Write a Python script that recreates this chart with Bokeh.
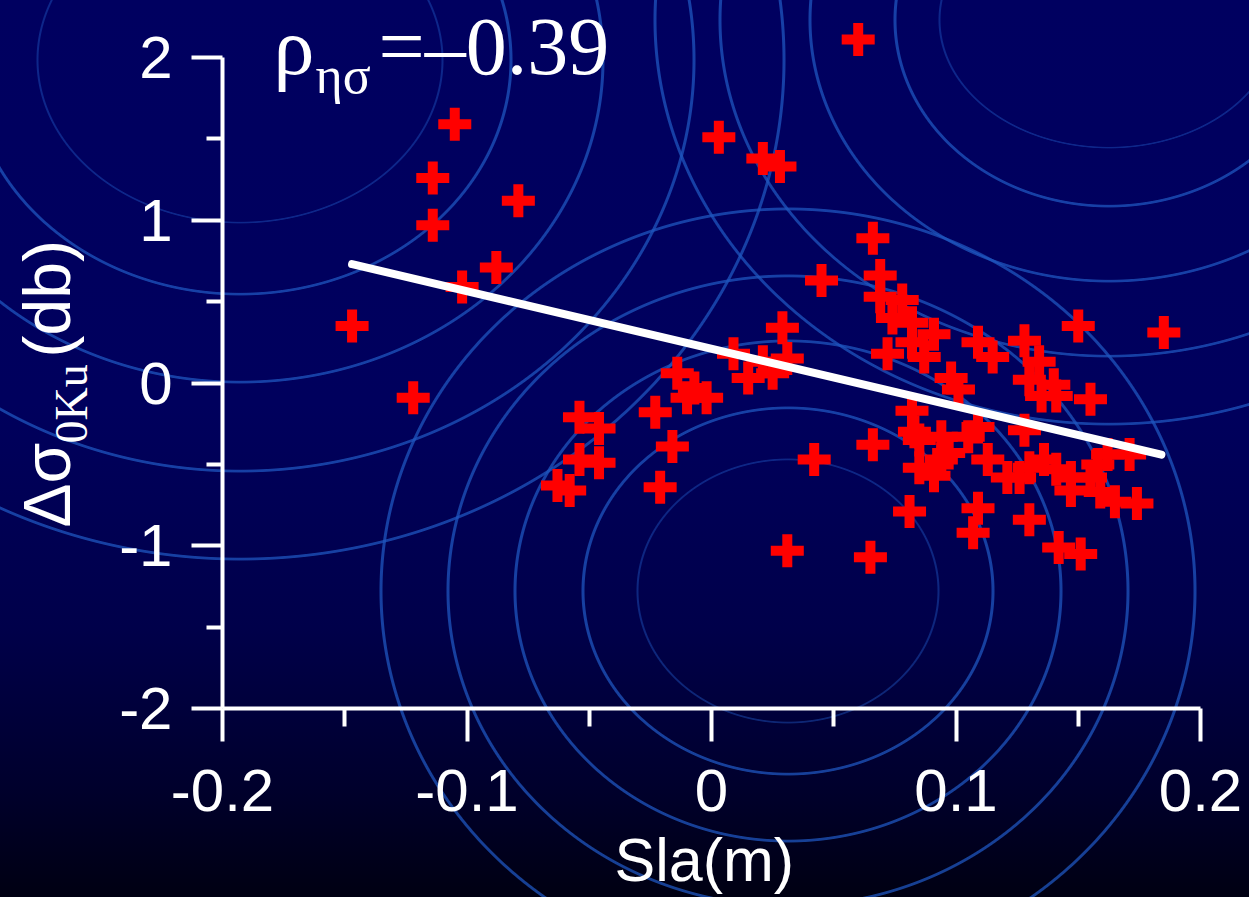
import math
from bokeh.plotting import figure
from bokeh.models import Range1d, FixedTicker, Label
from bokeh.embed import file_html
from bokeh.resources import INLINE

# ---------------- data ----------------
sla = [0.060, -0.105, -0.114, -0.114, -0.079, -0.088, -0.102, -0.147, -0.122,
       0.003, 0.021, 0.028, 0.066, 0.045, 0.029,
       -0.054, -0.046, -0.054, -0.046, -0.063, -0.058, -0.023, -0.016, -0.021,
       -0.014, -0.010, -0.007, -0.002,
       0.009, 0.015, 0.021, 0.025, 0.031, 0.042, 0.031,
       0.069, 0.069, 0.078, 0.074, 0.082, 0.091, 0.082, 0.072, 0.087, 0.109,
       0.115, 0.098, 0.101, 0.082,
       0.083, 0.085, 0.094, 0.109, 0.105, 0.097, 0.085, 0.091, 0.094, 0.066,
       0.113, 0.081, 0.109, 0.107, 0.065, 0.121,
       0.150, 0.185, 0.128, 0.134, 0.130, 0.140, 0.135, 0.141, 0.155, 0.128,
       0.171, 0.130, 0.142, 0.151, 0.174, 0.165, 0.159, 0.147, 0.126, 0.130,
       0.136, 0.141, 0.147, 0.155, 0.158, 0.162]
dsigma = [2.11, 1.59, 1.26, 0.97, 1.12, 0.71, 0.59, 0.35, -0.09,
          1.51, 1.38, 1.33, 0.89, 0.63, 0.34,
          -0.21, -0.28, -0.47, -0.49, -0.63, -0.66, -0.18, -0.39, -0.64,
          0.06, -0.09, -0.03, -0.09,
          0.18, 0.03, 0.13, 0.06, 0.15, -0.47, -1.03,
          0.66, 0.53, 0.51, 0.40, 0.37, 0.30, 0.25, 0.18, 0.16, 0.25,
          0.16, 0.03, -0.04, -0.17,
          -0.30, -0.35, -0.33, -0.27, -0.33, -0.43, -0.52, -0.57, -0.47, -0.38,
          -0.47, -0.79, -0.77, -0.92, -1.07, -0.58,
          0.35, 0.31, 0.26, 0.13, 0.02, -0.01, -0.08, -0.08, -0.10, -0.29,
          -0.44, -0.84, -1.01, -1.05, -0.74, -0.73, -0.67, -0.66, -0.58, -0.52,
          -0.47, -0.53, -0.58, -0.58, -0.50, -0.44]

fit_x = [-0.147, 0.184]
fit_y = [0.73, -0.44]

x_ticks = [-0.2, -0.1, 0.0, 0.1, 0.2]
x_tick_labels = ["-0.2", "-0.1", "0", "0.1", "0.2"]
x_minor = [-0.15, -0.05, 0.05, 0.15]
y_ticks = [-2, -1, 0, 1, 2]
y_tick_labels = ["-2", "-1", "0", "1", "2"]
y_minor = [-1.5, -0.5, 0.5, 1.5]

rho_value = "=\u20130.39"

# ---------------- layout ----------------
W, H = 1249, 897
FL, FR, FT, FB = 222, 1200, 57, 708      # pixel box of the axes
XR = (-0.2, 0.2)
YR = (-2.0, 2.0)
K = 0.38                                  # baseline correction (em)


def dx(px):
    return XR[0] + (px - FL) / (FR - FL) * (XR[1] - XR[0])


def dy(py):
    return YR[1] - (py - FT) / (FB - FT) * (YR[1] - YR[0])


# the frame covers the whole canvas; the axes are pinned at fixed locations
p = figure(width=W, height=H,
           x_range=Range1d(dx(0), dx(W)), y_range=Range1d(dy(H), dy(0)),
           output_backend="svg", toolbar_location=None,
           min_border_left=0, min_border_right=0,
           min_border_top=0, min_border_bottom=0)

p.background_fill_color = None
p.border_fill_color = None
p.outline_line_color = None
p.xgrid.visible = False
p.ygrid.visible = False

# background: gradient + decorative rings (CSS)
def ring(cx, cy, rx, ry, w, col):
    return (f"radial-gradient(ellipse {rx}px {ry}px at {cx}px {cy}px, "
            f"rgba(0,0,0,0) calc(100% - {w + 1}px), {col} calc(100% - {w}px), "
            f"{col} 100%, rgba(0,0,0,0) calc(100% + 1px))")

solid = "rgba(30,85,190,0.75)"
dotted = "rgba(30,85,190,0.45)"
ring_sets = [
    (788, 591, [(151, 132, 1), (206, 184, 0), (274, 251, 0), (341, 316, 0), (408, 383, 0)]),
    (1109, 20, [(170, 128, 1), (215, 187, 0), (300, 262, 0), (390, 337, 0), (455, 405, 0)]),
    (240, 60, [(203, 163, 1), (272, 235, 0), (364, 323, 0), (455, 412, 0), (545, 500, 0)]),
]
layers = []
for cx, cy, rs in ring_sets:
    for rx, ry, dot in rs:
        layers.append(ring(cx, cy, rx, ry, 1 if dot else 2, dotted if dot else solid))
layers.append("linear-gradient(to bottom, #000060 0%, #00005d 45%, #00004a 70%, "
              "#00002c 88%, #000012 100%)")
p.styles = {"background-image": ", ".join(layers), "background-color": "#000060"}

# axes
for ax, ticks, minor, labels, tout, mout, loc, bnd in (
        (p.xaxis[0], x_ticks, x_minor, x_tick_labels, 33, 18, YR[0], XR),
        (p.yaxis[0], y_ticks, y_minor, y_tick_labels, 31, 16, XR[0], YR)):
    ax.fixed_location = loc
    ax.bounds = bnd
    ax.ticker = FixedTicker(ticks=ticks, minor_ticks=minor)
    ax.major_label_overrides = {t: l for t, l in zip(ticks, labels)}
    ax.axis_line_color = "white"
    ax.axis_line_width = 4
    ax.major_tick_line_color = "white"
    ax.major_tick_line_width = 4
    ax.minor_tick_line_color = "white"
    ax.minor_tick_line_width = 4
    ax.major_tick_in = 0
    ax.major_tick_out = tout
    ax.minor_tick_in = 0
    ax.minor_tick_out = mout
    ax.major_label_text_color = "white"
    ax.major_label_text_font = "Liberation Sans"
    ax.major_label_text_font_size = "60px"
p.xaxis.major_label_standoff = 28
p.yaxis.major_label_standoff = 19
p.yaxis.major_label_orientation = "horizontal"

# data
p.scatter(sla, dsigma, marker="cross", size=33, line_color="#ff0000", line_width=10)
p.line(fit_x, fit_y, line_color="white", line_width=8, line_cap="round")

# texts (px, py = start of text and its baseline, in pixels)
def lab(px, py, text, font, size, angle=0.0):
    if angle:
        px = px - K * size
    else:
        py = py - K * size
    p.add_layout(Label(x=dx(px), y=dy(py), text=text, text_font=font,
                       text_font_size=f"{size}px", text_color="white",
                       text_baseline="alphabetic", text_align="left", angle=angle))

lab(273, 77, "\u03c1", "Liberation Serif", 82)
lab(315, 95, "\u03b7\u03c3", "Liberation Serif", 52)
lab(378, 77, rho_value, "Liberation Serif", 82)

lab(614, 883, "Sla(m)", "Liberation Sans", 61)

lab(72, 527, "\u0394\u03c3", "Liberation Sans", 66, math.pi / 2)
lab(88, 443, "0Ku", "Liberation Serif", 46, math.pi / 2)
lab(72, 357, "(db)", "Liberation Sans", 66, math.pi / 2)

open("out.html", "w").write(file_html(p, INLINE))
